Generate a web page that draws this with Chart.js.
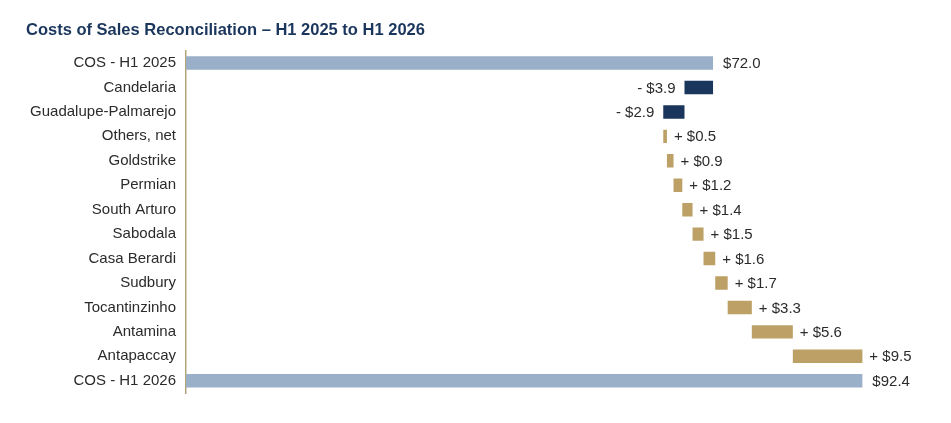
<!DOCTYPE html>
<html>
<head>
<meta charset="utf-8">
<script src="https://cdn.jsdelivr.net/npm/chart.js@4.4.1/dist/chart.umd.min.js"></script>
<style>
html,body{margin:0;padding:0;background:#fff;}
#wrap{width:951px;height:423px;}
</style>
</head>
<body>
<div id="wrap"><canvas id="c" width="951" height="423"></canvas></div>
<script>
const categories = ["COS - H1 2025","Candelaria","Guadalupe-Palmarejo","Others, net","Goldstrike","Permian","South Arturo","Sabodala","Casa Berardi","Sudbury","Tocantinzinho","Antamina","Antapaccay","COS - H1 2026"];
const startTotal = 72.0;
const changes = [-3.9,-2.9,0.5,0.9,1.2,1.4,1.5,1.6,1.7,3.3,5.6,9.5];
const endTotal = 92.4;
const valueLabels = ["$72.0","- $3.9","- $2.9","+ $0.5","+ $0.9","+ $1.2","+ $1.4","+ $1.5","+ $1.6","+ $1.7","+ $3.3","+ $5.6","+ $9.5","$92.4"];

const COL_TOTAL = "#9AAFC8";
const COL_NEG = "#1B365D";
const COL_POS = "#BCA066";

const barData = [];
const barColors = [];
barData.push([0, startTotal]); barColors.push(COL_TOTAL);
let run = startTotal;
changes.forEach(v => {
  const next = run + v;
  barData.push([Math.min(run,next), Math.max(run,next)]);
  barColors.push(v < 0 ? COL_NEG : COL_POS);
  run = next;
});
barData.push([0, endTotal]); barColors.push(COL_TOTAL);

const labelPlugin = {
  id: 'valLabels',
  afterDatasetsDraw(chart) {
    const ctx = chart.ctx;
    const meta = chart.getDatasetMeta(0);
    ctx.save();
    ctx.font = '15px "Liberation Sans", Arial, sans-serif';
    ctx.fillStyle = '#2b2b2b';
    ctx.textBaseline = 'middle';
    meta.data.forEach((el, i) => {
      const left = Math.min(el.x, el.base), right = Math.max(el.x, el.base);
      const isNeg = i > 0 && i <= changes.length && changes[i-1] < 0;
      if (isNeg) {
        ctx.textAlign = 'right';
        ctx.fillText(valueLabels[i], left - 9, el.y + 1);
      } else {
        ctx.textAlign = 'left';
        ctx.fillText(valueLabels[i], right + (i===0||i===categories.length-1 ? 10 : 7), el.y + 1);
      }
    });
    ctx.restore();
  }
};

new Chart(document.getElementById('c'), {
  type: 'bar',
  data: {
    labels: categories,
    datasets: [{
      data: barData,
      backgroundColor: barColors,
      borderWidth: 0,
      barPercentage: 0.55,
      categoryPercentage: 1.0
    }]
  },
  options: {
    indexAxis: 'y',
    responsive: false,
    animation: false,
    layout: { padding: { left: 26, right: 33, top: 21, bottom: 30 } },
    plugins: {
      legend: { display: false },
      tooltip: { enabled: false },
      title: {
        display: true,
        text: 'Costs of Sales Reconciliation \u2013 H1 2025 to H1 2026',
        align: 'start',
        color: '#1B365D',
        font: { family: '"Liberation Sans", Arial, sans-serif', size: 16.5, weight: 'bold', lineHeight: 1.2 },
        padding: { top: 0, bottom: 10 }
      }
    },
    scales: {
      x: { display: false, min: 0, max: 100 },
      y: {
        grid: { display: false, drawTicks: false },
        border: { display: true, color: '#B5A57A', width: 1.5 },
        ticks: {
          color: '#2b2b2b',
          padding: 10,
          font: { family: '"Liberation Sans", Arial, sans-serif', size: 15 }
        },
        afterFit(scale) { scale.width = 160; }
      }
    }
  },
  plugins: [labelPlugin]
});
</script>
</body>
</html>
